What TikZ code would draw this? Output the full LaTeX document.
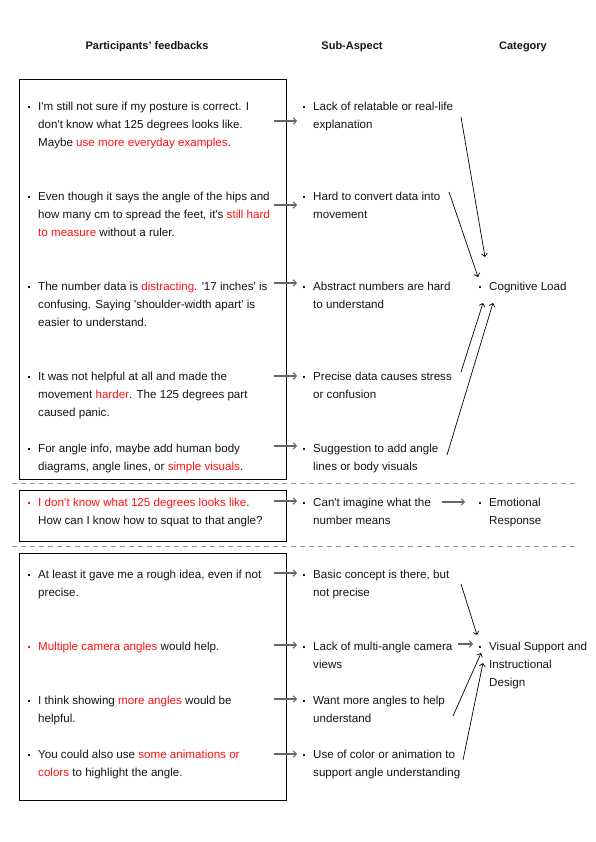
\documentclass[tikz,border=0pt]{standalone}
\usepackage{fontspec}
\setmainfont{Liberation Sans}[Ligatures=TeXOff]
\usetikzlibrary{arrows.meta}
\definecolor{txt}{HTML}{141414}
\definecolor{rd}{HTML}{FF1010}
\definecolor{ar}{HTML}{666666}
\definecolor{dsh}{HTML}{9A9A9A}
\newcommand{\hl}[1]{\textcolor{rd}{#1}}
\newcommand{\bul}{\llap{\raisebox{2.5pt}{\rule{2pt}{2pt}}\hspace{8.5pt}}}
\newcommand{\st}{\rule{0pt}{10pt}}
\begin{document}
\begin{tikzpicture}[x=1pt,y=-1pt,
  tx/.style={anchor=north west, inner sep=0pt, align=left, text=txt, font=\fontsize{11.6}{18}\selectfont},
  hdr/.style={anchor=base, inner sep=0pt, text=txt, font=\fontsize{11}{13}\selectfont\bfseries},
  frame/.style={draw=black, line width=0.9pt, inner sep=0pt, minimum width=267pt},
  garrow/.style={draw=ar, line width=1.1pt, -{Straight Barb[length=3pt,width=6.5pt]}},
  karrow/.style={draw=black, line width=0.7pt, -{Straight Barb[length=3pt,width=6pt]}},
  dline/.style={draw=dsh, line width=0.8pt, dash pattern=on 5pt off 4pt}]
\useasboundingbox (0,0) rectangle (595,842);

% headers
\node[hdr] (h-fb) at (147,49.5) {Participants’ feedbacks};
\node[hdr] (h-sa) at (352,49.5) {Sub-Aspect};
\node[hdr] (h-ca) at (523,49.5) {Category};

% boxes
\node[frame, minimum height=400pt] (B1) at (152.5,279) {};
\node[frame, minimum height=51pt] (B2) at (152.5,515.5) {};
\node[frame, minimum height=247pt] (B3) at (152.5,676.5) {};

% dashed separators
\coordinate (d1a) at (12,483); \coordinate (d1b) at (577,483);
\coordinate (d2a) at (12,546); \coordinate (d2b) at (577,546);
\draw[dline] (d1a) -- (d1b);
\draw[dline] (d2a) -- (d2b);

% feedbacks
\node[tx] (f1) at (38,100.5) {\bul\st I'm still not sure if my posture is correct. I\\ don't know what 125 degrees looks like.\\ Maybe \hl{use more everyday examples}.};
\node[tx] (f2) at (38,190.5) {\bul\st Even though it says the angle of the hips and\\ how many cm to spread the feet, it's \hl{still hard}\\ \hl{to measure} without a ruler.};
\node[tx] (f3) at (38,280.5) {\bul\st The number data is \hl{distracting}. '17 inches' is\\ confusing. Saying 'shoulder-width apart' is\\ easier to understand.};
\node[tx] (f4) at (38,370.5) {\bul\st It was not helpful at all and made the\\ movement \hl{harder}. The 125 degrees part\\ caused panic.};
\node[tx] (f5) at (38,442.5) {\bul\st For angle info, maybe add human body\\ diagrams, angle lines, or \hl{simple visuals}.};
\node[tx] (g1) at (38,496.5) {\hl{\bul\st I don’t know what 125 degrees looks like}.\\ How can I know how to squat to that angle?};
\node[tx] (k1) at (38,568.5) {\bul\st At least it gave me a rough idea, even if not\\ precise.};
\node[tx] (k2) at (38,640.5) {\hl{\bul\st Multiple camera angles} would help.};
\node[tx] (k3) at (38,694.5) {\bul\st I think showing \hl{more angles} would be\\ helpful.};
\node[tx] (k4) at (38,748.5) {\bul\st You could also use \hl{some animations or}\\ \hl{colors} to highlight the angle.};

% sub-aspects
\node[tx] (s1) at (313,100.5) {\bul\st Lack of relatable or real-life\\ explanation};
\node[tx] (s2) at (313,190.5) {\bul\st Hard to convert data into\\ movement};
\node[tx] (s3) at (313,280.5) {\bul\st Abstract numbers are hard\\ to understand};
\node[tx] (s4) at (313,370.5) {\bul\st Precise data causes stress\\ or confusion};
\node[tx] (s5) at (313,442.5) {\bul\st Suggestion to add angle\\ lines or body visuals};
\node[tx] (s6) at (313,496.5) {\bul\st Can't imagine what the\\ number means};
\node[tx] (s7) at (313,568.5) {\bul\st Basic concept is there, but\\ not precise};
\node[tx] (s8) at (313,640.5) {\bul\st Lack of multi-angle camera\\ views};
\node[tx] (s9) at (313,694.5) {\bul\st Want more angles to help\\ understand};
\node[tx] (s10) at (313,748.5) {\bul\st Use of color or animation to\\ support angle understanding};

% categories
\node[tx] (c1) at (489,280.5) {\bul\st Cognitive Load};
\node[tx] (c2) at (489,496.5) {\bul\st Emotional\\ Response};
\node[tx] (c3) at (489,640.5) {\bul\st Visual Support and\\ Instructional\\ Design};

% feedback -> sub-aspect arrows
\coordinate (a1) at (274,121);
\coordinate (a2) at (274,205);
\coordinate (a3) at (274,283);
\coordinate (a4) at (274,376);
\coordinate (a5) at (274,446);
\coordinate (a6) at (274,501);
\coordinate (a7) at (274,573);
\coordinate (a8) at (274,645);
\coordinate (a9) at (274,699);
\coordinate (a10) at (274,754);
\foreach \i in {1,...,10}{
  \draw[garrow, shorten >=16pt] (a\i) -- (a\i -| s\i.west);
}

% sub-aspect -> category arrows
\coordinate (e1) at (442,502);
\draw[garrow, shorten >=24pt] (e1) -- (e1 -| c2.west);
\coordinate (e2) at (458,644);
\draw[garrow, shorten >=16pt] (e2) -- (e2 -| c3.west);

\coordinate (p1s) at (461,117); \coordinate (p1e) at (485,257);
\coordinate (p2s) at (449,192); \coordinate (p2e) at (478,277);
\coordinate (p4s) at (461,372); \coordinate (p4e) at (483,303);
\coordinate (p5s) at (447,455); \coordinate (p5e) at (493,303);
\draw[karrow] (p1s) -- (p1e);
\draw[karrow] (p2s) -- (p2e);
\draw[karrow] (p4s) -- (p4e);
\draw[karrow] (p5s) -- (p5e);

\coordinate (q1s) at (461,584); \coordinate (q1e) at (477,635);
\coordinate (q3s) at (453,716); \coordinate (q3e) at (481,653);
\coordinate (q4s) at (463,760); \coordinate (q4e) at (483,663);
\draw[karrow] (q1s) -- (q1e);
\draw[karrow] (q3s) -- (q3e);
\draw[karrow] (q4s) -- (q4e);
\end{tikzpicture}
\end{document}
